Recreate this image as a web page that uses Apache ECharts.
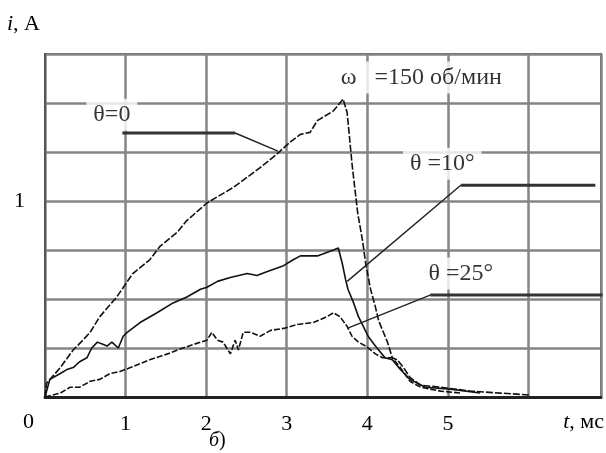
<!DOCTYPE html>
<html>
<head>
<meta charset="utf-8">
<script src="https://cdn.jsdelivr.net/npm/echarts@6/dist/echarts.min.js"></script>
<style>
  html, body { margin: 0; padding: 0; background: #fff; }
  #chart { width: 606px; height: 453px; }
</style>
</head>
<body>
<div id="chart"></div>
<script>
// current i (A) vs time t (ms), three load angles
var tTheta0 = [0, 0.02, 0.19, 0.35, 0.47, 0.56, 0.68, 0.89, 1.09, 1.30, 1.43, 1.64, 1.76, 2.01, 2.34, 2.67, 2.88, 3.04, 3.17, 3.29, 3.38, 3.58, 3.70, 3.75, 3.81, 3.88, 3.94, 3.98, 4.04, 4.10, 4.14, 4.20, 4.25, 4.31, 4.37, 4.45, 4.53, 4.66, 4.91, 5.28, 5.65, 6.02]
var iTheta0 = [0, 0.07, 0.15, 0.24, 0.29, 0.33, 0.41, 0.51, 0.63, 0.70, 0.77, 0.84, 0.90, 0.99, 1.07, 1.17, 1.24, 1.30, 1.34, 1.35, 1.41, 1.46, 1.52, 1.45, 1.19, 0.94, 0.80, 0.68, 0.55, 0.46, 0.39, 0.33, 0.28, 0.20, 0.19, 0.15, 0.10, 0.06, 0.05, 0.03, 0.02, 0.01]

var tTheta10 = [0, 0.06, 0.19, 0.27, 0.35, 0.43, 0.52, 0.58, 0.65, 0.71, 0.77, 0.83, 0.91, 0.97, 1.02, 1.18, 1.39, 1.59, 1.76, 1.93, 2.01, 2.14, 2.30, 2.51, 2.63, 2.76, 2.96, 3.08, 3.17, 3.38, 3.58, 3.64, 3.69, 3.73, 3.76, 3.83, 3.89, 3.95, 4.01, 4.10, 4.22, 4.31, 4.41, 4.53, 4.72, 5.03, 5.40]
var iTheta10 = [0, 0.09, 0.12, 0.14, 0.15, 0.18, 0.20, 0.25, 0.28, 0.27, 0.26, 0.28, 0.25, 0.31, 0.33, 0.38, 0.43, 0.48, 0.51, 0.55, 0.56, 0.59, 0.61, 0.63, 0.62, 0.64, 0.67, 0.70, 0.72, 0.72, 0.75, 0.76, 0.68, 0.60, 0.55, 0.48, 0.41, 0.36, 0.31, 0.26, 0.20, 0.19, 0.14, 0.09, 0.05, 0.04, 0.02]

var tTheta25 = [0, 0.19, 0.31, 0.43, 0.56, 0.68, 0.81, 0.93, 1.06, 1.18, 1.30, 1.52, 1.71, 1.93, 2.01, 2.07, 2.14, 2.21, 2.30, 2.36, 2.40, 2.46, 2.55, 2.67, 2.80, 2.96, 3.13, 3.33, 3.50, 3.58, 3.66, 3.75, 3.81, 3.89, 3.98, 4.10, 4.19, 4.31, 4.41, 4.53, 4.66, 4.91, 5.16]
var iTheta25 = [0, 0.02, 0.05, 0.05, 0.08, 0.09, 0.12, 0.13, 0.15, 0.17, 0.19, 0.22, 0.25, 0.28, 0.29, 0.33, 0.29, 0.28, 0.22, 0.29, 0.24, 0.33, 0.33, 0.31, 0.34, 0.35, 0.37, 0.38, 0.41, 0.43, 0.41, 0.36, 0.31, 0.28, 0.26, 0.22, 0.20, 0.20, 0.15, 0.08, 0.05, 0.03, 0.02]

// leader lines of the annotations (shelf + pointer), in data units
var shelfT = [0.96, 2.36, null, 5.16, 6.83, null, 4.78, 6.92]
var shelfI = [1.347, 1.347, null, 1.08, 1.08, null, 0.52, 0.52]
var pointerT = [2.36, 2.89, null, 5.16, 3.75, null, 4.78, 3.75]
var pointerI = [1.347, 1.255, null, 1.08, 0.59, null, 0.52, 0.35]

var noteText = ['θ=0', 'ω   =150 об/мин', 'θ =10°', 'θ =25°']
var noteT = [0.83, 4.67, 4.93, 5.16]
var noteI = [1.44, 1.63, 1.19, 0.63]

var xTicks = [1, 2, 3, 4, 5]
var yTicks = [1]

function pairs(xs, ys) {
  return xs.map(function (x, k) {
    return x === null ? [null, null] : [x, ys[k]]
  })
}

var serif = 'Liberation Serif'
var chart = echarts.init(document.getElementById('chart'))

chart.setOption({
  animation: false,
  backgroundColor: '#fff',
  textStyle: { fontFamily: serif },
  grid: {
    left: 45, top: 54, right: 5, bottom: 56,
    show: true, borderColor: '#555', borderWidth: 2
  },
  xAxis: {
    type: 'value', min: 0, max: 6.9, interval: 1,
    axisLine: { lineStyle: { color: '#222', width: 3 } },
    axisTick: { show: false },
    axisLabel: {
      margin: 16, color: '#000', fontSize: 22, fontFamily: serif,
      formatter: function (v) { return xTicks.indexOf(v) >= 0 ? String(v) : '' }
    },
    splitLine: { show: true, lineStyle: { color: '#858585', width: 2.5 } }
  },
  yAxis: {
    type: 'value', min: 0, max: 1.75, interval: 0.25,
    axisLine: { show: true, lineStyle: { color: '#555', width: 2 } },
    axisTick: { show: false },
    axisLabel: {
      margin: 20, color: '#000', fontSize: 22, fontFamily: serif,
      formatter: function (v) { return yTicks.indexOf(v) >= 0 ? String(v) : '' }
    },
    splitLine: { show: true, lineStyle: { color: '#858585', width: 2.5 } }
  },
  graphic: [
    { type: 'text', left: 7, top: 13, style: { text: '{it|i}, A', fill: '#000', font: '22px ' + serif, rich: { it: { fontStyle: 'italic', fontSize: 22, fontFamily: serif } } } },
    { type: 'text', left: 23, top: 411, style: { text: '0', fill: '#000', font: '22px ' + serif } },
    { type: 'text', right: 2, top: 411, style: { text: '{it|t}, мс', fill: '#000', font: '22px ' + serif, rich: { it: { fontStyle: 'italic', fontSize: 22, fontFamily: serif } } } },
    { type: 'text', left: 209, top: 431, style: { text: '{it|б})', fill: '#000', font: '20px ' + serif, rich: { it: { fontStyle: 'italic', fontSize: 20, fontFamily: serif } } } }
  ],
  series: [
    {
      name: 'θ=0', type: 'line', showSymbol: false, z: 3,
      data: pairs(tTheta0, iTheta0),
      lineStyle: { color: '#111', width: 1.6, type: [7, 2] }
    },
    {
      name: 'θ=10°', type: 'line', showSymbol: false, z: 3,
      data: pairs(tTheta10, iTheta10),
      lineStyle: { color: '#111', width: 1.6 }
    },
    {
      name: 'θ=25°', type: 'line', showSymbol: false, z: 3,
      data: pairs(tTheta25, iTheta25),
      lineStyle: { color: '#111', width: 1.6, type: [6, 2] }
    },
    {
      type: 'line', showSymbol: false, silent: true, z: 4,
      data: pairs(shelfT, shelfI),
      lineStyle: { color: '#333', width: 3 }
    },
    {
      type: 'line', showSymbol: false, silent: true, z: 4,
      data: pairs(pointerT, pointerI),
      lineStyle: { color: '#222', width: 1.4 }
    },
    {
      type: 'scatter', symbolSize: 1, silent: true, z: 5,
      itemStyle: { color: 'rgba(0,0,0,0)' },
      data: noteT.map(function (t, k) { return { value: [t, noteI[k]], name: noteText[k] } }),
      label: {
        show: true, position: 'inside', formatter: '{b}',
        color: '#000', fontSize: 24, fontFamily: serif,
        backgroundColor: '#fff', padding: [4, 7]
      }
    }
  ]
})
</script>
</body>
</html>
